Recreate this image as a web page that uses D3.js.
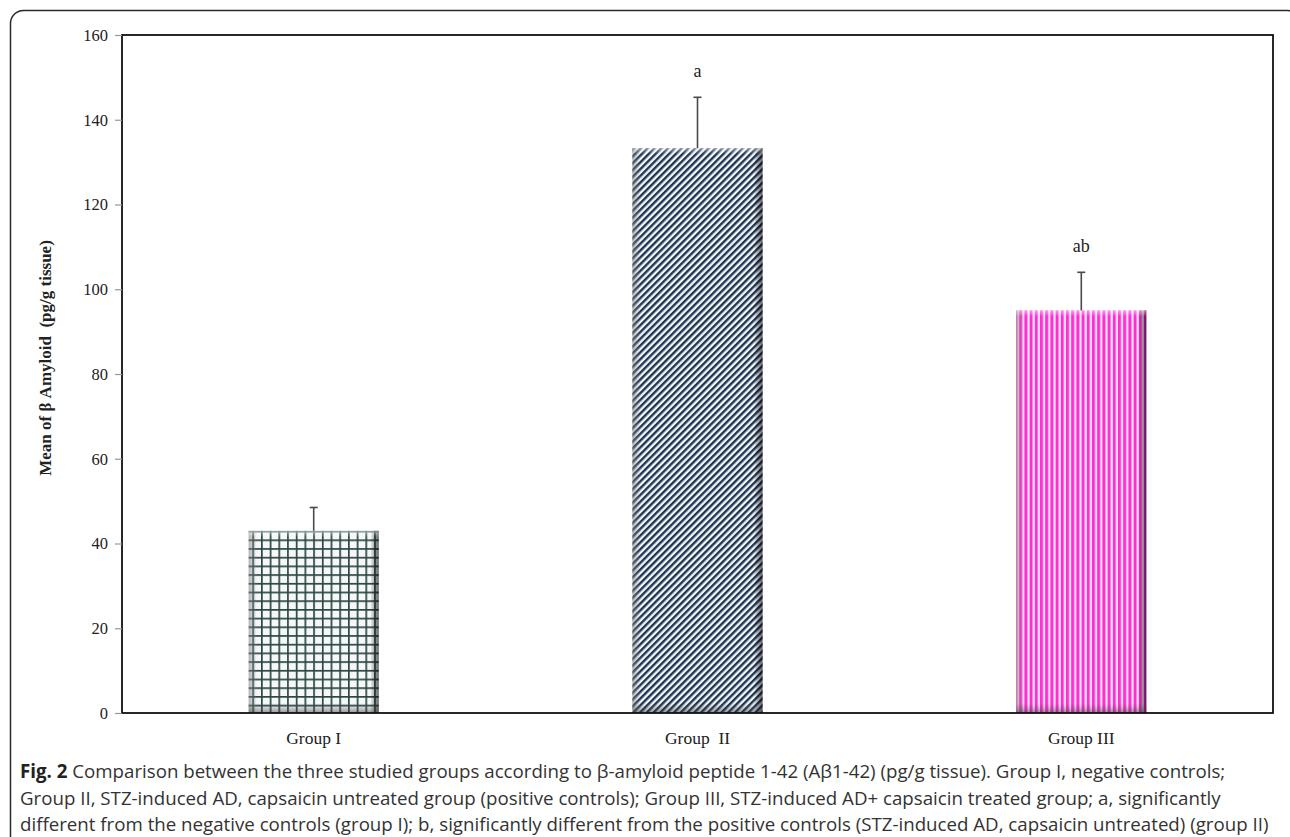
<!DOCTYPE html>
<html>
<head>
<meta charset="utf-8">
<script src="https://cdn.jsdelivr.net/npm/d3@7"></script>
<style>
  html, body { margin: 0; padding: 0; background: #fff; }
  svg { display: block; }
</style>
</head>
<body>
<svg id="chart" width="1290" height="837"></svg>
<script>
// Group means of β-amyloid (pg/g tissue) with upper error whiskers
const groups = ["Group I", "Group  II", "Group III"];
const means = [43, 133.3, 95];
const errors = [5.5, 12, 9];
const letters = ["", "a", "ab"];
const yTicks = [0, 20, 40, 60, 80, 100, 120, 140, 160];
const captionLines = [
  ["Fig. 2", " Comparison between the three studied groups according to β-amyloid peptide 1-42 (Aβ1-42) (pg/g tissue). Group I, negative controls;"],
  ["", "Group II, STZ-induced AD, capsaicin untreated group (positive controls); Group III, STZ-induced AD+ capsaicin treated group; a, significantly"],
  ["", "different from the negative controls (group I); b, significantly different from the positive controls (STZ-induced AD, capsaicin untreated) (group II)"]
];

const svg = d3.select("#chart");
const serif = "'Liberation Serif', 'DejaVu Serif', serif";
const plot = { left: 122, top: 35, right: 1273, bottom: 713 };

const x = d3.scaleBand().domain(groups).range([plot.left, plot.right]).paddingInner(0.661).paddingOuter(0.33);
const y = d3.scaleLinear().domain([0, 160]).range([plot.bottom, plot.top]);

// Fill patterns for the three bars
const defs = svg.append("defs");
const grid = defs.append("pattern").attr("id", "fill-grid")
  .attr("patternUnits", "userSpaceOnUse").attr("width", 8.7).attr("height", 8.7)
  .attr("x", 0).attr("y", 0);
grid.append("rect").attr("width", 8.7).attr("height", 8.7).attr("fill", "#f6f7f7");
grid.append("rect").attr("x", 0).attr("y", 0).attr("width", 1.7).attr("height", 8.7).attr("fill", "#2c4747");
grid.append("rect").attr("x", 0).attr("y", 0).attr("width", 8.7).attr("height", 1.7).attr("fill", "#2c4747");

const diag = defs.append("pattern").attr("id", "fill-diag")
  .attr("patternUnits", "userSpaceOnUse").attr("width", 4.8).attr("height", 10)
  .attr("patternTransform", "rotate(45)");
diag.append("rect").attr("width", 4.8).attr("height", 10).attr("fill", "#f4f6f8");
diag.append("rect").attr("width", 2.4).attr("height", 10).attr("fill", "#1d3452");

const vert = defs.append("pattern").attr("id", "fill-vert")
  .attr("patternUnits", "userSpaceOnUse").attr("width", 5.2).attr("height", 10);
vert.append("rect").attr("width", 5.2).attr("height", 10).attr("fill", "#fbe6f6");
vert.append("rect").attr("width", 3).attr("height", 10).attr("fill", "#ff2fd6");

const fills = ["url(#fill-grid)", "url(#fill-diag)", "url(#fill-vert)"];

// Bevel shading gradients
function grad(id, x2, y2, stops) {
  const g = defs.append("linearGradient").attr("id", id)
    .attr("x1", 0).attr("y1", 0).attr("x2", x2).attr("y2", y2);
  stops.forEach(s => g.append("stop").attr("offset", s[0]).attr("stop-color", s[1]).attr("stop-opacity", s[2]));
}
grad("bev-left", 1, 0, [[0, "#777", 0.55], [1, "#999", 0.05]]);
grad("bev-right", 1, 0, [[0, "#000", 0.05], [1, "#000", 0.6]]);
grad("bev-bottom", 0, 1, [[0, "#555", 0.0], [1, "#333", 0.5]]);
grad("bev-top", 0, 1, [[0, "#fff", 0.5], [1, "#fff", 0.0]]);

// Outer figure border
svg.append("rect").attr("x", 10.5).attr("y", 10.5).attr("width", 1290).attr("height", 900)
  .attr("rx", 13).attr("fill", "none").attr("stroke", "#2a2a2a").attr("stroke-width", 1.5);

// Bars
const bars = svg.append("g");
groups.forEach((g, i) => {
  const bx = x(g), bw = x.bandwidth(), by = y(means[i]), bh = y(0) - y(means[i]);
  bars.append("rect").attr("x", bx).attr("y", by).attr("width", bw).attr("height", bh).attr("fill", fills[i]);
  bars.append("rect").attr("x", bx).attr("y", by).attr("width", 8).attr("height", bh).attr("fill", "url(#bev-left)");
  bars.append("rect").attr("x", bx + bw - 8).attr("y", by).attr("width", 8).attr("height", bh).attr("fill", "url(#bev-right)");
  bars.append("rect").attr("x", bx).attr("y", y(0) - 10).attr("width", bw).attr("height", 10).attr("fill", "url(#bev-bottom)");
  bars.append("rect").attr("x", bx).attr("y", by).attr("width", bw).attr("height", 6).attr("fill", "url(#bev-top)");
});

// Error whiskers
const err = svg.append("g").attr("stroke", "#4a4a4a").attr("stroke-width", 1.6);
groups.forEach((g, i) => {
  const cx = x(g) + x.bandwidth() / 2;
  err.append("line").attr("x1", cx).attr("x2", cx).attr("y1", y(means[i])).attr("y2", y(means[i] + errors[i]));
  err.append("line").attr("x1", cx - 4).attr("x2", cx + 4).attr("y1", y(means[i] + errors[i])).attr("y2", y(means[i] + errors[i]));
});

// Significance letters
svg.append("g").selectAll("text").data(groups).join("text")
  .attr("x", d => x(d) + x.bandwidth() / 2)
  .attr("y", (d, i) => y(means[i] + errors[i]) - 20)
  .attr("text-anchor", "middle")
  .attr("font-family", serif).attr("font-size", 18).attr("fill", "#222")
  .text((d, i) => letters[i]);

// Plot frame
svg.append("rect").attr("x", plot.left).attr("y", plot.top)
  .attr("width", plot.right - plot.left).attr("height", plot.bottom - plot.top)
  .attr("fill", "none").attr("stroke", "#111").attr("stroke-width", 1.8);

// Y axis
const yAxis = svg.append("g").attr("transform", `translate(${plot.left},0)`)
  .call(d3.axisLeft(y).tickValues(yTicks).tickSize(7).tickPadding(7));
yAxis.select(".domain").remove();
yAxis.selectAll(".tick line").attr("stroke", "#999").attr("stroke-width", 1.2);
yAxis.selectAll(".tick text").attr("font-family", serif).attr("font-size", 16.5).attr("fill", "#222");

// X category labels
svg.append("g").selectAll("text").data(groups).join("text")
  .attr("x", d => x(d) + x.bandwidth() / 2).attr("y", 744)
  .attr("text-anchor", "middle").attr("font-family", serif).attr("font-size", 17.5).attr("fill", "#222")
  .style("white-space", "pre")
  .text(d => d);

// Y axis title
svg.append("text").attr("transform", "translate(51,358) rotate(-90)")
  .attr("text-anchor", "middle").attr("font-family", serif).attr("font-weight", "bold")
  .attr("font-size", 17).attr("fill", "#222").style("white-space", "pre")
  .text("Mean of β Amyloid  (pg/g tissue)");

// Caption
const cap = svg.append("g").attr("font-family", "'Open Sans', 'Noto Sans', sans-serif").attr("font-size", 18.7).attr("fill", "#333");
captionLines.forEach((ln, i) => {
  const t = cap.append("text").attr("x", 20).attr("y", 778 + i * 26.5);
  if (ln[0]) t.append("tspan").attr("font-weight", "bold").attr("fill", "#222").text(ln[0]);
  t.append("tspan").text(ln[1]);
});
</script>
</body>
</html>
